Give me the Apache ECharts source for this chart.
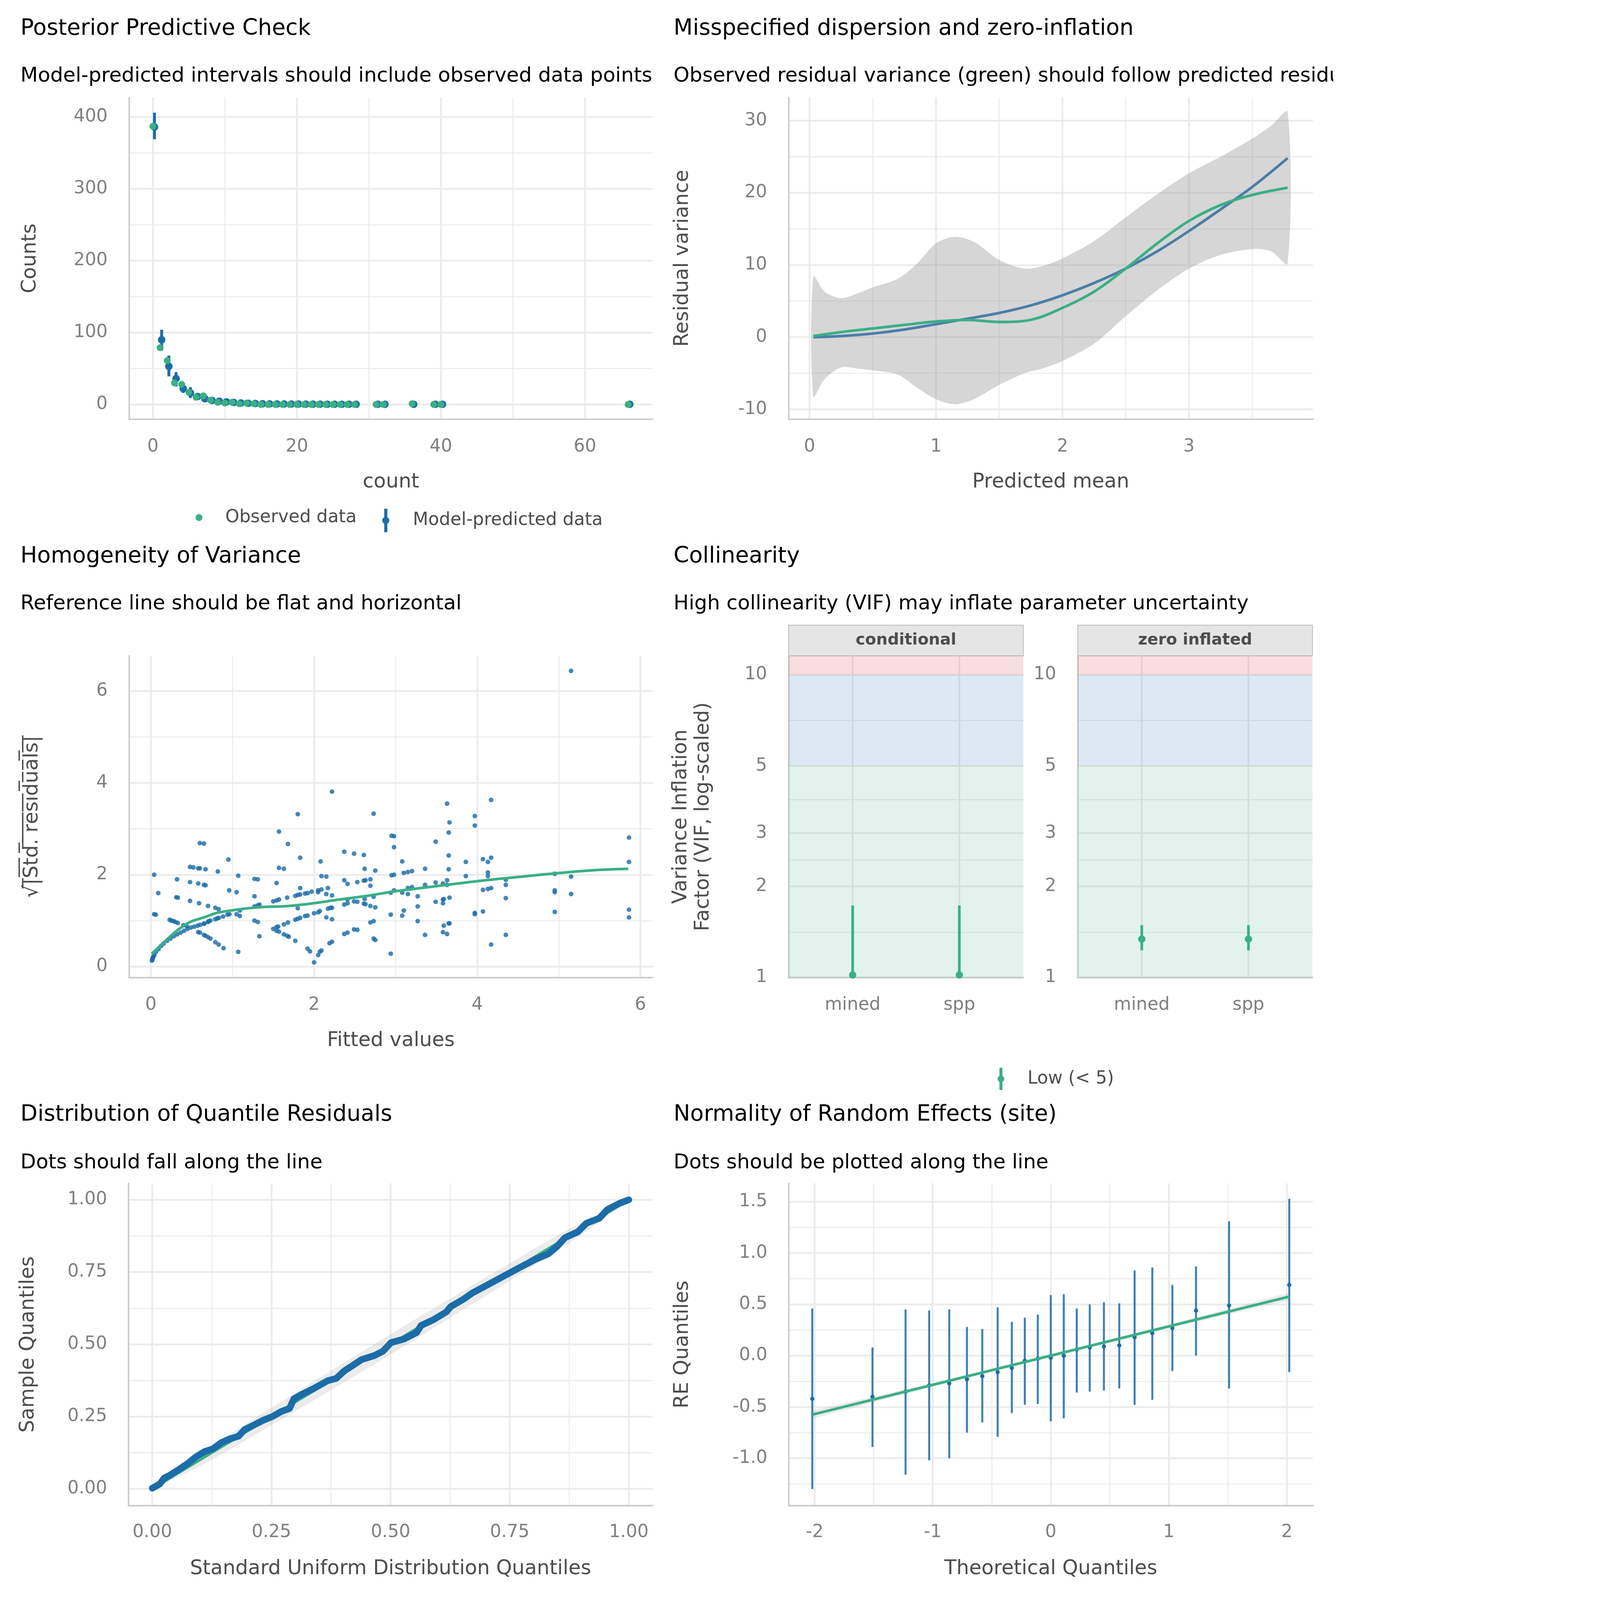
<!DOCTYPE html>
<html>
<head>
<meta charset="utf-8">
<title>Model diagnostics</title>
<script src="https://cdn.jsdelivr.net/npm/echarts@6.0.0/dist/echarts.min.js"></script>
<style>
  html, body { margin: 0; padding: 0; background: #ffffff; overflow: hidden; }
  #chart { width: 6000px; height: 7200px; transform-origin: 0 0; }
</style>
</head>
<body>
<div id="chart"></div>
<script>
// ---- Posterior predictive check ----
var ppcCount = [0, 1, 2, 3, 4, 5, 6, 7, 8, 9, 10, 11, 12, 13, 14, 15, 16, 17, 18, 19, 20, 21, 22, 23, 24, 25, 26, 27, 28, 31, 32, 36, 39, 40, 66];
var ppcObserved = [387, 79, 61, 30, 28, 17, 10, 12, 6, 3, 2, 3, 1, 2, 1, 0, 0, 0, 0, 0, 0, 0, 0, 0, 0, 0, 0, 0, 0, 0, 0, 1, 0, 0, 0];
var ppcPredicted = [386, 90, 53, 36, 22, 16, 11, 8, 5.5, 4.5, 3.5, 2.8, 2, 1.6, 1.3, 1, 0.8, 0.7, 0.6, 0.5, 0.5, 0.4, 0.4, 0.4, 0.3, 0.3, 0.3, 0.3, 0.3, 0.2, 0.2, 0.2, 0.2, 0.2, 0.2];
var ppcLower = [369, 75, 39, 25, 16, 9, 6, 4, 2, 1, 1, 0, 0, 0, 0, 0, 0, 0, 0, 0, 0, 0, 0, 0, 0, 0, 0, 0, 0, 0, 0, 0, 0, 0, 0];
var ppcUpper = [406, 104, 68, 45, 28, 24, 16, 12, 9, 8, 6, 5, 4, 4, 3, 3, 2, 2, 2, 2, 2, 2, 1, 1, 1, 1, 1, 1, 1, 1, 1, 1, 1, 1, 1];

// ---- Dispersion ----
var dispMean = [0.03, 0.25, 0.5, 0.75, 1.0, 1.25, 1.5, 1.75, 2.0, 2.25, 2.5, 2.75, 3.0, 3.25, 3.5, 3.78];
var dispPredicted = [0, 0.15, 0.5, 1.05, 1.8, 2.55, 3.35, 4.4, 5.8, 7.5, 9.5, 11.9, 14.7, 17.7, 20.8, 24.8];
var dispObserved = [0.15, 0.7, 1.2, 1.7, 2.17, 2.38, 2.1, 2.4, 4.05, 6.3, 9.5, 13.0, 16.1, 18.3, 19.7, 20.7];
var ribbonMean = [0.03, 0.12, 0.25, 0.4, 0.5, 0.7, 0.85, 1.0, 1.15, 1.3, 1.5, 1.7, 1.85, 2.0, 2.25, 2.5, 2.75, 3.0, 3.25, 3.5, 3.65, 3.78];
var ribbonUpper = [8.4, 6.3, 5.4, 6.2, 6.9, 8.1, 10.2, 13.0, 13.9, 13.2, 10.7, 9.5, 9.9, 10.9, 13.3, 16.6, 19.8, 22.7, 25.0, 27.5, 29.3, 31.2];
var ribbonLower = [-8.2, -5.8, -4.2, -4.4, -4.6, -5.2, -7.0, -8.6, -9.3, -8.6, -6.6, -5.0, -4.3, -3.3, -0.9, 2.9, 6.5, 9.5, 11.4, 12.2, 11.9, 10.2];

// ---- Homogeneity of variance: [fitted value, sqrt(|std. residual|)] ----
var homogeneityPoints = [
  [0.013, 0.13], [0.017, 0.15], [0.02, 0.17], [0.025, 0.19], [0.03, 0.22], [0.042, 0.25], [0.063, 0.32], [0.094, 0.38],
  [0.125, 0.45], [0.156, 0.5], [0.198, 0.56], [0.24, 0.61], [0.281, 0.66], [0.323, 0.7], [0.365, 0.74], [0.406, 0.78],
  [0.448, 0.82], [0.49, 0.85], [0.531, 0.87], [0.573, 0.89], [0.604, 0.91], [0.656, 0.94], [0.708, 0.99], [0.729, 1.0],
  [0.788, 1.03], [0.813, 1.05], [0.833, 1.06], [0.885, 1.09], [0.938, 1.13], [0.963, 1.14],
  [0.04, 2.0], [0.09, 1.6], [0.04, 1.14], [0.06, 1.13], [0.23, 1.02], [0.25, 1.0], [0.28, 0.99], [0.3, 0.97], [0.33, 0.95],
  [0.32, 1.9], [0.31, 1.51], [0.33, 1.5], [0.4, 0.9], [0.44, 0.88], [0.48, 2.17], [0.52, 2.16], [0.48, 1.84], [0.48, 1.43],
  [0.58, 2.14], [0.6, 2.14], [0.6, 2.69], [0.65, 2.68], [0.67, 2.12], [0.58, 1.81], [0.65, 1.78], [0.67, 1.77], [0.59, 1.38],
  [0.7, 1.32], [0.58, 0.75], [0.6, 0.74], [0.65, 0.69], [0.67, 0.67], [0.7, 0.64], [0.73, 0.61], [0.79, 0.53], [0.83, 0.48],
  [0.89, 0.4], [0.65, 0.93], [0.7, 0.97], [0.82, 2.07], [0.79, 1.28], [0.83, 1.25], [0.95, 2.33], [0.96, 1.66], [1.05, 1.62],
  [1.07, 1.98], [1.07, 0.32], [1.05, 1.14], [1.09, 1.1], [1.09, 1.22], [1.27, 1.91], [1.31, 1.9], [1.27, 1.53], [1.27, 1.31],
  [1.31, 1.33], [1.33, 1.35], [1.27, 1.0], [1.31, 0.97], [1.33, 0.66], [1.5, 0.82], [1.54, 0.86], [1.56, 0.87], [1.54, 0.78],
  [1.57, 0.76], [1.5, 1.42], [1.54, 1.44], [1.57, 1.46], [1.54, 1.82], [1.57, 2.94], [1.57, 2.15], [1.63, 2.13], [1.68, 2.67],
  [1.67, 1.5], [1.63, 0.92], [1.68, 0.96], [1.63, 0.7], [1.67, 0.67], [1.69, 0.65], [1.77, 0.56], [1.77, 1.54], [1.8, 1.56],
  [1.83, 1.57], [1.8, 3.32], [1.83, 2.37], [1.83, 1.71], [1.8, 1.27], [1.77, 1.02], [1.8, 1.04], [1.83, 1.06], [1.89, 1.1],
  [1.92, 1.11], [1.92, 0.39], [1.95, 0.33], [1.89, 1.59], [1.92, 1.6], [1.97, 1.63], [2.0, 0.09], [2.05, 0.25], [2.07, 0.32],
  [2.09, 0.35], [2.0, 1.16], [2.05, 1.18], [2.07, 1.21], [2.05, 1.66], [2.05, 1.62], [2.09, 1.68], [2.08, 2.29], [2.09, 1.97],
  [2.15, 1.96], [2.15, 1.58], [2.17, 1.71], [2.22, 3.81], [2.15, 1.07], [2.22, 1.03], [2.17, 1.26], [2.2, 1.28], [2.22, 1.28],
  [2.22, 1.55], [2.19, 0.51], [2.22, 0.54], [2.37, 2.5], [2.37, 1.88], [2.41, 1.8], [2.41, 1.46], [2.37, 1.35], [2.41, 1.38],
  [2.37, 0.71], [2.41, 0.74], [2.49, 2.46], [2.53, 1.84], [2.49, 1.42], [2.53, 1.41], [2.49, 0.81], [2.53, 0.8], [2.61, 2.43],
  [2.62, 2.13], [2.61, 1.87], [2.63, 1.88], [2.69, 1.9], [2.69, 1.76], [2.62, 1.47], [2.61, 1.37], [2.63, 1.36], [2.69, 1.32],
  [2.75, 1.29], [2.73, 1.52], [2.69, 0.96], [2.73, 0.99], [2.73, 0.61], [2.75, 0.58], [2.73, 3.33], [2.75, 2.09], [2.94, 0.28],
  [2.94, 1.13], [2.94, 1.61], [2.95, 1.99], [2.95, 2.85], [2.98, 2.84], [2.98, 2.6], [2.98, 2.0], [2.98, 1.66], [3.08, 2.29],
  [3.1, 2.04], [3.15, 2.06], [3.2, 2.08], [3.08, 1.61], [3.15, 1.71], [3.2, 1.73], [3.15, 1.58], [3.1, 1.22], [3.08, 1.11],
  [3.27, 1.53], [3.27, 1.31], [3.27, 0.99], [3.36, 2.13], [3.36, 1.78], [3.36, 0.69], [3.49, 2.72], [3.49, 1.83], [3.49, 1.41],
  [3.58, 1.81], [3.58, 1.46], [3.59, 1.47], [3.58, 1.38], [3.63, 1.88], [3.63, 1.78], [3.66, 1.5], [3.59, 0.89], [3.58, 0.75],
  [3.63, 0.71], [3.65, 0.94], [3.66, 0.94], [3.63, 3.55], [3.66, 3.14], [3.65, 2.92], [3.65, 2.42], [3.65, 2.12], [3.86, 2.28],
  [3.86, 1.97], [3.97, 3.28], [3.97, 3.07], [3.97, 1.17], [3.97, 1.14], [4.07, 2.34], [4.07, 1.67], [4.07, 1.2], [4.13, 2.28],
  [4.13, 2.05], [4.13, 1.97], [4.13, 1.69], [4.17, 2.37], [4.17, 1.71], [4.17, 3.63], [4.17, 0.48], [4.35, 1.89], [4.35, 1.78],
  [4.35, 1.49], [4.35, 0.69], [4.95, 2.02], [4.95, 1.66], [4.95, 1.62], [4.95, 1.19], [5.15, 6.44], [5.15, 1.96], [5.15, 1.58],
  [5.86, 2.81], [5.86, 2.28], [5.86, 1.24], [5.86, 1.07]
];
var smoothFitted = [0.01, 0.15, 0.31, 0.48, 0.65, 0.81, 0.98, 1.19, 1.4, 1.6, 1.81, 2.0, 2.23, 2.44, 2.65, 2.96, 3.36, 4.0, 4.61, 4.95, 5.44, 5.85];
var smoothResid = [0.28, 0.51, 0.77, 0.97, 1.07, 1.17, 1.22, 1.27, 1.3, 1.31, 1.34, 1.38, 1.44, 1.49, 1.54, 1.63, 1.72, 1.86, 1.97, 2.03, 2.1, 2.13];

// ---- Collinearity ----
var vifTerms = ['mined', 'spp'];
var vifConditional = [1.02, 1.02];
var vifConditionalLow = [1.0, 1.0];
var vifConditionalHigh = [1.73, 1.73];
var vifZeroInfl = [1.34, 1.34];
var vifZeroInflLow = [1.23, 1.23];
var vifZeroInflHigh = [1.49, 1.49];
var vifBreaks = [1, 2, 3, 5, 10];
var vifMinorBreaks = [1.41, 2.45, 3.87, 7.07];

// ---- Quantile residuals: [uniform quantile, sample quantile] ----
var qqPoints = [
  [0, 0.002], [0.016, 0.017], [0.025, 0.037], [0.038, 0.048], [0.056, 0.067], [0.074, 0.087], [0.092, 0.111], [0.11, 0.129],
  [0.127, 0.138], [0.145, 0.16], [0.163, 0.173], [0.181, 0.182], [0.194, 0.205], [0.216, 0.223], [0.234, 0.238], [0.252, 0.25],
  [0.27, 0.267], [0.288, 0.278], [0.297, 0.311], [0.314, 0.327], [0.341, 0.349], [0.368, 0.374], [0.386, 0.382], [0.403, 0.408],
  [0.421, 0.427], [0.439, 0.447], [0.466, 0.461], [0.484, 0.476], [0.501, 0.506], [0.528, 0.518], [0.555, 0.541], [0.564, 0.565],
  [0.59, 0.585], [0.617, 0.612], [0.626, 0.63], [0.653, 0.656], [0.671, 0.677], [0.697, 0.7], [0.724, 0.724], [0.751, 0.748],
  [0.777, 0.771], [0.804, 0.794], [0.831, 0.813], [0.849, 0.838], [0.866, 0.869], [0.893, 0.889], [0.911, 0.919], [0.938, 0.936],
  [0.955, 0.966], [0.982, 0.989], [1.0, 1.0]
];
var qqBandX = [0, 0.1, 0.25, 0.5, 0.75, 0.9, 1];
var qqBandLow = [0, 0.078, 0.22, 0.465, 0.72, 0.878, 1];
var qqBandHigh = [0, 0.122, 0.28, 0.535, 0.78, 0.922, 1];

// ---- Random effects ----
var reTheoretical = [-2.02, -1.51, -1.23, -1.03, -0.86, -0.71, -0.58, -0.45, -0.33, -0.22, -0.11, 0, 0.11, 0.22, 0.33, 0.45, 0.58, 0.71, 0.86, 1.03, 1.23, 1.51, 2.02];
var reEstimate = [-0.42, -0.4, -0.35, -0.29, -0.27, -0.23, -0.2, -0.16, -0.12, -0.05, -0.03, -0.02, 0.0, 0.06, 0.08, 0.09, 0.1, 0.18, 0.22, 0.27, 0.44, 0.49, 0.69];
var reLower = [-1.3, -0.89, -1.16, -1.02, -1.0, -0.75, -0.65, -0.79, -0.56, -0.48, -0.47, -0.64, -0.61, -0.36, -0.35, -0.34, -0.32, -0.48, -0.43, -0.15, 0.0, -0.32, -0.16];
var reUpper = [0.46, 0.08, 0.45, 0.44, 0.45, 0.28, 0.26, 0.47, 0.33, 0.37, 0.4, 0.59, 0.6, 0.46, 0.5, 0.52, 0.51, 0.83, 0.86, 0.69, 0.87, 1.31, 1.53];
var reLineX = [-2.02, 2.02];
var reLineY = [-0.575, 0.576];
var reBandX = [-2.02, -1, 0, 1, 2.02];
var reBandLow = [-0.615, -0.303, -0.015, 0.267, 0.54];
var reBandHigh = [-0.535, -0.267, 0.015, 0.303, 0.615];

var FONT = '"DejaVu Sans", sans-serif';
var GREEN = '#3aaf85';
var BLUE = '#1b6ca8';
var RANGE_ICON = 'path://M10,0 H24 V106 H10 Z M1,53 A16,16 0 1 1 33,53 A16,16 0 1 1 1,53 Z';

// sqrt(|Std. residuals|) with an overbar drawn by combining overline marks
var sqrtLabel = '\u221A' + '|Std. residuals|'.split('').map(function (c) { return c + '\u0305'; }).join('');

var xAxes = [];
var yAxes = [];

// major axis (labels + major grid) plus an unlabeled axis that only draws minor grid lines
function addAxis(list, grid, spec) {
  list.push({
    type: 'value', gridIndex: grid, min: spec.min, max: spec.max,
    axisLine: { show: true, onZero: false, lineStyle: { color: '#cccccc', width: 7 } },
    axisTick: { show: false, customValues: spec.major },
    axisLabel: { customValues: spec.major, formatter: spec.fmt, margin: spec.margin,
      color: '#808080', fontSize: 80, fontFamily: FONT },
    splitLine: { show: true, lineStyle: { color: '#ebebeb', width: 8 } },
    name: spec.name || '', nameLocation: 'middle', nameGap: spec.gap,
    nameTextStyle: { color: '#4d4d4d', fontSize: 90, fontFamily: FONT, lineHeight: spec.lineHeight || 90 }
  });
  var idx = list.length - 1;
  if (spec.minor) {
    list.push({
      type: 'value', gridIndex: grid, min: spec.min, max: spec.max,
      axisLine: { show: false }, axisTick: { show: false, customValues: spec.minor },
      axisLabel: { show: false },
      splitLine: { show: true, lineStyle: { color: '#ebebeb', width: 4.5 } }
    });
  }
  return idx;
}

function errorBars(name, xi, yi, xs, lo, hi, color, width) {
  return {
    type: 'custom', name: name, xAxisIndex: xi, yAxisIndex: yi,
    data: xs.map(function (x, i) { return [x, lo[i], hi[i]]; }),
    encode: { x: 0, y: [1, 2] },
    itemStyle: { color: color },
    renderItem: function (params, api) {
      var a = api.coord([api.value(0), api.value(1)]);
      var b = api.coord([api.value(0), api.value(2)]);
      return { type: 'line', shape: { x1: a[0], y1: a[1], x2: b[0], y2: b[1] },
        style: { stroke: color, lineWidth: width } };
    }
  };
}

function ribbon(xi, yi, xs, lo, hi, fill, smooth) {
  return {
    type: 'custom', xAxisIndex: xi, yAxisIndex: yi, silent: true,
    data: [[xs[0], lo[0]]],
    renderItem: function (params, api) {
      var pts = [];
      for (var i = 0; i < xs.length; i++) pts.push(api.coord([xs[i], hi[i]]));
      for (var j = xs.length - 1; j >= 0; j--) pts.push(api.coord([xs[j], lo[j]]));
      return { type: 'polygon', shape: { points: pts, smooth: smooth }, style: { fill: fill } };
    }
  };
}

function zip(a, b) { return a.map(function (v, i) { return [v, b[i]]; }); }

// Panel 1
var p1x = addAxis(xAxes, 0, { min: -3.3, max: 69.4, major: [0, 20, 40, 60], minor: [10, 30, 50], margin: 85, name: 'count', gap: 240 });
var p1y = addAxis(yAxes, 0, { min: -20.4, max: 427, major: [0, 100, 200, 300, 400], minor: [50, 150, 250, 350], margin: 97, name: 'Counts', gap: 400 });
// Panel 2
var p2x = addAxis(xAxes, 1, { min: -0.165, max: 3.98, major: [0, 1, 2, 3], minor: [0.5, 1.5, 2.5, 3.5], margin: 85, name: 'Predicted mean', gap: 240 });
var p2y = addAxis(yAxes, 1, { min: -11.36, max: 33.2, major: [-10, 0, 10, 20, 30], minor: [-5, 5, 15, 25], margin: 97, name: 'Residual variance', gap: 432 });
// Panel 3
var p3x = addAxis(xAxes, 2, { min: -0.267, max: 6.15, major: [0, 2, 4, 6], minor: [1, 3, 5], margin: 85, name: 'Fitted values', gap: 240 });
var p3y = addAxis(yAxes, 2, { min: -0.24, max: 6.77, major: [0, 2, 4, 6], minor: [1, 3, 5], margin: 97, name: sqrtLabel, gap: 385, lineHeight: 100 });
// Panel 4 (log10 scale)
var vifFmt = function (v) { return String(Math.round(Math.pow(10, v))); };
var termFmt = function (v) { return vifTerms[Math.round(v) - 1]; };
var vifTop = 1.063;
var p4ax = addAxis(xAxes, 3, { min: 0.4, max: 2.6, major: [1, 2], margin: 85, fmt: termFmt });
var p4ay = addAxis(yAxes, 3, { min: 0, max: vifTop, major: vifBreaks.map(Math.log10), minor: vifMinorBreaks.map(Math.log10), margin: 97, fmt: vifFmt,
  name: 'Variance Inflation\nFactor (VIF, log-scaled)', gap: 335, lineHeight: 99 });
var p4bx = addAxis(xAxes, 4, { min: 0.4, max: 2.6, major: [1, 2], margin: 85, fmt: termFmt });
var p4by = addAxis(yAxes, 4, { min: 0, max: vifTop, major: vifBreaks.map(Math.log10), minor: vifMinorBreaks.map(Math.log10), margin: 97, fmt: vifFmt });
// Panel 5
var fmt2 = function (v) { return v.toFixed(2); };
var p5x = addAxis(xAxes, 5, { min: -0.05, max: 1.05, major: [0, 0.25, 0.5, 0.75, 1], minor: [0.125, 0.375, 0.625, 0.875], margin: 82, fmt: fmt2, name: 'Standard Uniform Distribution Quantiles', gap: 240 });
var p5y = addAxis(yAxes, 5, { min: -0.058, max: 1.057, major: [0, 0.25, 0.5, 0.75, 1], minor: [0.125, 0.375, 0.625, 0.875], margin: 96, fmt: fmt2, name: 'Sample Quantiles', gap: 405 });
// Panel 6
var fmt1 = function (v) { return v.toFixed(1); };
var p6x = addAxis(xAxes, 6, { min: -2.22, max: 2.22, major: [-2, -1, 0, 1, 2], minor: [-1.5, -0.5, 0.5, 1.5], margin: 82, name: 'Theoretical Quantiles', gap: 240 });
var p6y = addAxis(yAxes, 6, { min: -1.461, max: 1.68, major: [-1, -0.5, 0, 0.5, 1, 1.5], minor: [-1.25, -0.75, -0.25, 0.25, 0.75, 1.25], margin: 96, fmt: fmt1, name: 'RE Quantiles', gap: 432 });

function titleText(text, left, top, size) {
  return { text: text, left: left, top: top, padding: 0,
    textStyle: { fontSize: size, fontWeight: 'normal', color: '#000000', fontFamily: FONT, lineHeight: size } };
}

function vifBands(xi, yi) {
  return {
    type: 'line', xAxisIndex: xi, yAxisIndex: yi, data: [], silent: true,
    markArea: {
      silent: true,
      data: [
        [{ yAxis: 0, itemStyle: { color: 'rgba(58,175,133,0.15)' } }, { yAxis: Math.log10(5) }],
        [{ yAxis: Math.log10(5), itemStyle: { color: 'rgba(27,108,168,0.15)' } }, { yAxis: 1 }],
        [{ yAxis: 1, itemStyle: { color: 'rgba(205,32,31,0.15)' } }, { yAxis: vifTop }]
      ]
    }
  };
}

function legendItem(name, left, top, w, h, icon, pad) {
  return { data: [name], left: left, top: top, itemWidth: w, itemHeight: h, icon: icon,
    selectedMode: false, padding: 0,
    textStyle: { fontSize: 80, color: '#4d4d4d', fontFamily: FONT, padding: [0, 0, 0, pad] } };
}

function strip(x, text) {
  return [
    { type: 'rect', shape: { x: x, y: 2813, width: 1056, height: 138 },
      style: { fill: '#e5e5e5', stroke: '#b3b3b3', lineWidth: 3 } },
    { type: 'text', x: x + 528, y: 2882,
      style: { text: text, align: 'center', verticalAlign: 'middle', fill: '#4d4d4d',
        font: 'bold 72px "DejaVu Sans", sans-serif' } }
  ];
}

var option = {
  backgroundColor: '#ffffff',
  animation: false,
  textStyle: { fontFamily: FONT },
  title: [
    titleText('Posterior Predictive Check', 92, 80, 100),
    titleText('Model-predicted intervals should include observed data points', 92, 299, 91),
    titleText('Misspecified dispersion and zero-inflation', 3031, 80, 100),
    titleText('Observed residual variance (green) should follow predicted residual variance (blue)', 3031, 299, 91),
    titleText('Homogeneity of Variance', 92, 2456, 100),
    titleText('Reference line should be flat and horizontal', 92, 2673, 91),
    titleText('Collinearity', 3031, 2456, 100),
    titleText('High collinearity (VIF) may inflate parameter uncertainty', 3031, 2673, 91),
    titleText('Distribution of Quantile Residuals', 92, 4968, 100),
    titleText('Dots should fall along the line', 92, 5188, 91),
    titleText('Normality of Random Effects (site)', 3031, 4968, 100),
    titleText('Dots should be plotted along the line', 3031, 5188, 91)
  ],
  legend: [
    legendItem('Observed data', 880, 2289, 31, 106, 'circle', 98),
    legendItem('Model-predicted data', 1720, 2289, 34, 106, RANGE_ICON, 100),
    legendItem('Low (< 5)', 4489, 4805, 34, 100, RANGE_ICON, 98)
  ],
  grid: [
    { left: 581, top: 439, width: 2356, height: 1447, outerBoundsMode: 'none' },
    { left: 3549, top: 439, width: 2359, height: 1447, outerBoundsMode: 'none' },
    { left: 581, top: 2951, width: 2356, height: 1448, outerBoundsMode: 'none' },
    { left: 3549, top: 2951, width: 1056, height: 1448, outerBoundsMode: 'none' },
    { left: 4850, top: 2951, width: 1056, height: 1448, outerBoundsMode: 'none' },
    { left: 578, top: 5325, width: 2359, height: 1450, outerBoundsMode: 'none' },
    { left: 3549, top: 5325, width: 2359, height: 1450, outerBoundsMode: 'none' }
  ],
  xAxis: xAxes,
  yAxis: yAxes,
  graphic: strip(3549, 'conditional').concat(strip(4850, 'zero inflated')),
  series: [
    // Panel 1
    errorBars('Model-predicted data', p1x, p1y, ppcCount.map(function (c) { return c + 0.22; }), ppcLower, ppcUpper, BLUE, 13),
    { type: 'scatter', name: 'Model-predicted data', xAxisIndex: p1x, yAxisIndex: p1y, symbolSize: 34,
      itemStyle: { color: BLUE, opacity: 1 }, data: zip(ppcCount.map(function (c) { return c + 0.22; }), ppcPredicted) },
    { type: 'scatter', name: 'Observed data', xAxisIndex: p1x, yAxisIndex: p1y, symbolSize: 31,
      itemStyle: { color: GREEN, opacity: 1 }, data: zip(ppcCount, ppcObserved) },
    // Panel 2
    ribbon(p2x, p2y, ribbonMean, ribbonLower, ribbonUpper, 'rgba(153,153,153,0.4)', 0.3),
    { type: 'line', xAxisIndex: p2x, yAxisIndex: p2y, smooth: 0.35, showSymbol: false,
      lineStyle: { color: '#4c7ea5', width: 12 }, data: zip(dispMean, dispPredicted) },
    { type: 'line', xAxisIndex: p2x, yAxisIndex: p2y, smooth: 0.35, showSymbol: false,
      lineStyle: { color: GREEN, width: 12 }, data: zip(dispMean, dispObserved) },
    // Panel 3
    { type: 'scatter', xAxisIndex: p3x, yAxisIndex: p3y, symbolSize: 21,
      itemStyle: { color: 'rgba(27,108,168,0.82)', opacity: 1 }, data: homogeneityPoints },
    { type: 'line', xAxisIndex: p3x, yAxisIndex: p3y, smooth: 0.35, showSymbol: false,
      lineStyle: { color: GREEN, width: 12 }, data: zip(smoothFitted, smoothResid) },
    // Panel 4
    vifBands(p4ax, p4ay),
    vifBands(p4bx, p4by),
    errorBars('Low (< 5)', p4ax, p4ay, [1, 2], vifConditionalLow.map(Math.log10), vifConditionalHigh.map(Math.log10), GREEN, 12),
    { type: 'scatter', name: 'Low (< 5)', xAxisIndex: p4ax, yAxisIndex: p4ay, symbolSize: 33,
      itemStyle: { color: GREEN, opacity: 1 }, data: zip([1, 2], vifConditional.map(Math.log10)) },
    errorBars('Low (< 5)', p4bx, p4by, [1, 2], vifZeroInflLow.map(Math.log10), vifZeroInflHigh.map(Math.log10), GREEN, 12),
    { type: 'scatter', name: 'Low (< 5)', xAxisIndex: p4bx, yAxisIndex: p4by, symbolSize: 33,
      itemStyle: { color: GREEN, opacity: 1 }, data: zip([1, 2], vifZeroInfl.map(Math.log10)) },
    // Panel 5
    ribbon(p5x, p5y, qqBandX, qqBandLow, qqBandHigh, 'rgba(153,153,153,0.2)', 0.3),
    { type: 'line', xAxisIndex: p5x, yAxisIndex: p5y, showSymbol: false,
      lineStyle: { color: GREEN, width: 12 }, data: [[0, 0], [1, 1]] },
    { type: 'line', xAxisIndex: p5x, yAxisIndex: p5y, showSymbol: false,
      lineStyle: { color: BLUE, width: 30, cap: 'round', join: 'round' }, data: qqPoints },
    // Panel 6
    ribbon(p6x, p6y, reBandX, reBandLow, reBandHigh, 'rgba(153,153,153,0.2)', 0),
    { type: 'line', xAxisIndex: p6x, yAxisIndex: p6y, showSymbol: false,
      lineStyle: { color: GREEN, width: 12 }, data: zip(reLineX, reLineY) },
    errorBars('', p6x, p6y, reTheoretical, reLower, reUpper, 'rgba(27,108,168,0.85)', 9),
    { type: 'scatter', xAxisIndex: p6x, yAxisIndex: p6y, symbolSize: 19,
      itemStyle: { color: BLUE, opacity: 1 }, data: zip(reTheoretical, reEstimate) }
  ]
};

// fit the 6000x7200 layout into whatever CSS viewport the window gives
var dom = document.getElementById('chart');
var fit = Math.min(window.innerWidth / 6000, window.innerHeight / 7200) || 1;
dom.style.transform = 'scale(' + fit + ')';
var chart = echarts.init(dom, null, { renderer: 'canvas', devicePixelRatio: fit * (window.devicePixelRatio || 1) });
chart.setOption(option);
</script>
</body>
</html>
